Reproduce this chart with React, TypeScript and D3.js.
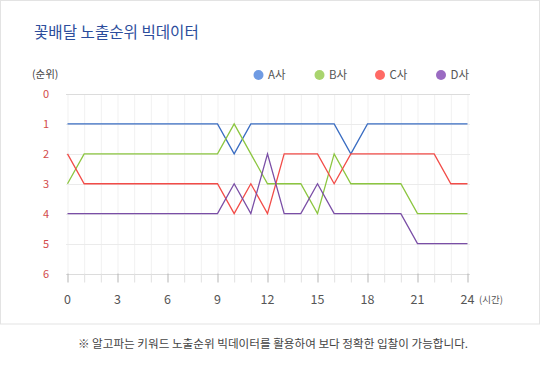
import * as d3 from "d3";

const hours = [0, 1, 2, 3, 4, 5, 6, 7, 8, 9, 10, 11, 12, 13, 14, 15, 16, 17, 18, 19, 20, 21, 22, 23, 24];
const hourTicks = [0, 3, 6, 9, 12, 15, 18, 21, 24];
const rankTicks = [0, 1, 2, 3, 4, 5, 6];

const seriesNames = ["A사", "B사", "C사", "D사"];
const rankA = [1, 1, 1, 1, 1, 1, 1, 1, 1, 1, 2, 1, 1, 1, 1, 1, 1, 2, 1, 1, 1, 1, 1, 1, 1];
const rankB = [3, 2, 2, 2, 2, 2, 2, 2, 2, 2, 1, 2, 3, 3, 3, 4, 2, 3, 3, 3, 3, 4, 4, 4, 4];
const rankC = [2, 3, 3, 3, 3, 3, 3, 3, 3, 3, 4, 3, 4, 2, 2, 2, 3, 2, 2, 2, 2, 2, 2, 3, 3];
const rankD = [4, 4, 4, 4, 4, 4, 4, 4, 4, 4, 3, 4, 2, 4, 4, 3, 4, 4, 4, 4, 4, 5, 5, 5, 5];

const lineColors = ["#3a6dc2", "#8cc640", "#f24c48", "#7a4ea6"];
const dotColors = ["#6f9be3", "#a9d46e", "#ff6a65", "#9a6bc2"];

const FONT = "'Noto Sans CJK KR', 'Noto Sans', sans-serif";

export default function App() {
  const width = 540;
  const height = 368;

  const x = d3.scaleLinear().domain([0, 24]).range([67.5, 467.5]);
  const y = d3.scaleLinear().domain([0, 6]).range([94, 273.5]);

  const line = d3
    .line<number>()
    .x((_, i) => x(hours[i]))
    .y((d) => y(d));

  const allSeries = [rankA, rankB, rankC, rankD];
  const legendX = [258.5, 319.5, 380, 441];

  return (
    <div style={{ position: "absolute", left: 0, top: 0 }}>
      <svg width={width} height={height} style={{ display: "block", fontFamily: FONT }}>
        <rect x={0} y={0} width={width} height={height} fill="#fff" />
        <rect x={0.5} y={0.5} width={539} height={323.5} fill="#fff" stroke="#e3e3e3" />

        <text x={34} y={38} fontSize={15.6} fill="#2c4d9c">
          꽃배달 노출순위 빅데이터
        </text>
        <text x={32} y={78} fontSize={10.5} fill="#444">
          (순위)
        </text>

        {seriesNames.map((name, i) => (
          <g key={name}>
            <circle cx={legendX[i]} cy={75} r={5} fill={dotColors[i]} />
            <text x={legendX[i] + 9.5} y={79} fontSize={11.5} fill="#555">
              {name}
            </text>
          </g>
        ))}

        {/* vertical grid each hour */}
        {hours.map((h) => (
          <line key={"v" + h} x1={x(h) + 0.5} x2={x(h) + 0.5} y1={y(0)} y2={y(6)} stroke="#f1f1f1" />
        ))}
        {/* horizontal grid */}
        {rankTicks.map((r) => (
          <line
            key={"h" + r}
            x1={66}
            x2={470}
            y1={Math.round(y(r)) + 0.5}
            y2={Math.round(y(r)) + 0.5}
            stroke={r === 0 || r === 6 ? "#dcdcdc" : "#ebebeb"}
          />
        ))}
        {/* x ticks */}
        {hours.map((h) => (
          <line
            key={"t" + h}
            x1={x(h) + 0.5}
            x2={x(h) + 0.5}
            y1={y(6)}
            y2={y(6) + 9}
            stroke={h % 3 === 0 ? "#b5b5b5" : "#e0e0e0"}
          />
        ))}

        {rankTicks.map((r) => (
          <text key={"yl" + r} x={46} y={y(r) + 4} fontSize={11} textAnchor="middle" fill="#d24b4b">
            {r}
          </text>
        ))}
        {hourTicks.map((h) => (
          <text key={"xl" + h} x={x(h)} y={304} fontSize={12.5} textAnchor="middle" fill="#555">
            {h}
          </text>
        ))}
        <text x={479} y={303} fontSize={9.5} fill="#555">
          (시간)
        </text>

        {allSeries.map((s, i) => (
          <path key={"s" + i} d={line(s) ?? ""} fill="none" stroke={lineColors[i]} strokeWidth={1.3} />
        ))}

        <text x={273} y={348} fontSize={11.6} textAnchor="middle" fill="#444">
          ※ 알고파는 키워드 노출순위 빅데이터를 활용하여 보다 정확한 입찰이 가능합니다.
        </text>
      </svg>
    </div>
  );
}
